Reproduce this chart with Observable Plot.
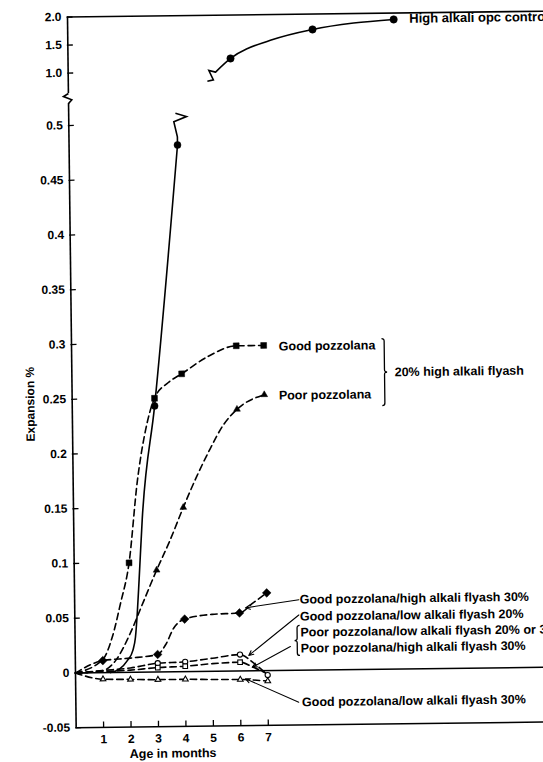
<!DOCTYPE html>
<html>
<head>
<meta charset="utf-8">
<script src="https://cdn.jsdelivr.net/npm/d3@7"></script>
<script src="https://cdn.jsdelivr.net/npm/@observablehq/plot@0.6"></script>
<style>
html,body{margin:0;padding:0;background:#fff;overflow:hidden;width:543px;height:762px;}
#wrap{position:relative;width:560px;height:762px;transform:rotate(-0.7deg);transform-origin:75px 672.5px;}
#wrap svg{position:absolute;left:0;top:0;}
</style>
</head>
<body>
<div id="wrap"></div>
<script>
// ---------- data (months, expansion %) ----------
const ctrlLow = [[1.28,0],[1.6,0.003],[1.9,0.011],[2.1,0.02],[2.2,0.032],[2.28,0.055],[2.36,0.085],[2.5,0.14],[3,0.243],[3.95,0.481]];
const ctrlLowMarks = [[3,0.243],[3.95,0.481]];
const ctrlHigh = [[5.37,0.984],[5.92,1.225],[7.38,1.54],[8.92,1.725],[10.42,1.83],[11.88,1.886]];
const ctrlHighMarks = [[5.92,1.225],[8.92,1.725],[11.88,1.886]];

const goodPozz = [[0,0],[1,0.012],[1.35,0.032],[1.67,0.063],[2,0.1],[2.34,0.175],[2.66,0.221],[3,0.25],[3.5,0.264],[4,0.272],[5,0.288],[6,0.297],[7,0.297]];
const goodPozzMarks = [[2,0.1],[3,0.25],[4,0.272],[6,0.297],[7,0.297]];

const poorPozz = [[0,0],[1,0.002],[1.5,0.012],[2,0.035],[2.5,0.064],[3,0.093],[3.5,0.12],[4,0.15],[4.5,0.178],[5,0.203],[5.5,0.225],[6,0.239],[7,0.252]];
const poorPozzMarks = [[3,0.093],[4,0.15],[6,0.239],[7,0.252]];

const goodHigh30 = [[0,0],[1,0.011],[2,0.013],[3,0.016],[3.3,0.025],[3.6,0.04],[4,0.048],[5,0.052],[6,0.053],[6.5,0.062],[7,0.071]];
const goodHigh30Marks = [[1,0.011],[3,0.016],[4,0.048],[6,0.053],[7,0.071]];

const goodLow20 = [[0,0],[1,0.002],[2,0.004],[3,0.008],[4,0.009],[5,0.012],[6,0.015],[6.5,0.007],[7,-0.004]];
const goodLow20Marks = [[3,0.008],[4,0.009],[6,0.015],[7,-0.004]];

const poorMix = [[0,0],[1,0.001],[2,0.002],[3,0.004],[4,0.005],[5,0.007],[6,0.008],[6.5,0.003],[7,-0.003]];
const poorMixMarks = [[3,0.004],[4,0.005],[6,0.008]];

const goodLow30 = [[0,0],[1,-0.006],[2,-0.0065],[3,-0.007],[4,-0.007],[5,-0.0075],[6,-0.0078],[7,-0.0095]];
const goodLow30Marks = [[1,-0.006],[2,-0.0065],[3,-0.007],[4,-0.007],[6,-0.0078],[7,-0.0095]];

// axis ticks
const xTicks = [1,2,3,4,5,6,7];
const yTicksLow = [0.5,0.45,0.4,0.35,0.3,0.25,0.2,0.15,0.1,0.05,0,-0.05];
const yTickLabelsLow = ["0.5","0.45","0.4","0.35","0.3","0.25","0.2","0.15","0.1","0.05","0","-0.05"];
const yTicksHigh = [2.0,1.5,1.0];
const yTickLabelsHigh = ["2.0","1.5","1.0"];

// annotations (data coordinates)
const labelsLow = [
  ["Good pozzolana", 7.55, 0.2959],
  ["Poor pozzolana", 7.53, 0.2511],
  ["20% high alkali flyash", 11.76, 0.2711],
  ["Good pozzolana/high alkali flyash 30%", 8.2, 0.0645],
  ["Good pozzolana/low alkali flyash 20%", 8.2, 0.049],
  ["Poor pozzolana/low alkali flyash 20% or 30%", 8.21, 0.0345],
  ["Poor pozzolana/high alkali flyash 30%", 8.21, 0.0198],
  ["Good pozzolana/low alkali flyash 30%", 8.24, -0.0292]
];
const labelsHigh = [["High alkali opc control", 12.45, 1.9]];
const arrows = [
  [8.17,0.0644,6.22,0.0576],
  [8.16,0.0505,6.32,0.0141],
  [7.84,0.0218,6.44,0.0033],
  [8.12,-0.0291,6.19,-0.0072],
  [0.45,0,0.02,0]
];

// ---------- layout ----------
const F = "Liberation Sans, Arial, Helvetica, sans-serif";
const W = 560, ML = 75, PXM = 27.45, XMAX = 17.5;
const MR = W - ML - XMAX * PXM;
const txt = {fontFamily: F, fontSize: 12.5, fontWeight: "bold", fill: "black"};
const SW = 1.6;

const tickRight = {draw(c){c.moveTo(-1,0);c.lineTo(5,0);}};
const tickUp = {draw(c){c.moveTo(0,0);c.lineTo(0,-6);}};
const axisBreak = {draw(c){c.moveTo(0,-5);c.lineTo(-5,-2);c.lineTo(3.3,1.3);c.lineTo(0,5);}};
const zigLow = {draw(c){c.moveTo(0,0);c.lineTo(0,-8.2);c.lineTo(-3.4,-23.3);c.lineTo(9.3,-28.3);c.lineTo(-1.7,-31.7);}};
const zigHigh = {draw(c){c.moveTo(0,0);c.lineTo(-6.7,-1.7);c.lineTo(-2.3,7.7);c.lineTo(-8.3,9);}};
function brace(h, dir){
  const w = 2.6 * dir, a = 2.6;
  return {draw(c){
    c.moveTo(-w,-h); c.quadraticCurveTo(0,-h,0,-h+a); c.lineTo(0,-a);
    c.quadraticCurveTo(0,0,w,0); c.quadraticCurveTo(0,0,0,a);
    c.lineTo(0,h-a); c.quadraticCurveTo(0,h,-w,h);
  }};
}
const braces = [[11.39,0.2714,brace(33.5,1)],[8.09,0.0272,brace(15,-1)]];

const X = d => d[0], Y = d => d[1];
const dashed = (data) => Plot.line(data, {x: X, y: Y, stroke: "black", strokeWidth: SW, strokeDasharray: "6.5,4", curve: "monotone-x"});
const solid = (data) => Plot.line(data, {x: X, y: Y, stroke: "black", strokeWidth: SW, curve: "monotone-x"});
const filled = (data, symbol, r) => Plot.dot(data, {x: X, y: Y, symbol, r, fill: "black", stroke: "black", strokeWidth: 0.5});
const open = (data, symbol, r) => Plot.dot(data, {x: X, y: Y, symbol, r, fill: "white", stroke: "black", strokeWidth: 1.1});
const glyph = (data, symbol, sw = SW) => Plot.dot(data, {x: X, y: Y, symbol, r: 4, fill: "none", stroke: "black", strokeWidth: sw});

const lower = Plot.plot({
  width: W, height: 762,
  marginLeft: ML, marginRight: MR, marginTop: 125, marginBottom: 34.75,
  x: {domain: [0, XMAX], axis: null},
  y: {domain: [-0.05, 0.5], axis: null},
  style: {background: "transparent", overflow: "visible"},
  marks: [
    Plot.ruleY([-0.05, 0], {stroke: "black", strokeWidth: SW}),
    Plot.ruleX([0], {y1: -0.05, y2: 0.5202, stroke: "black", strokeWidth: SW}),
    glyph([[0, 0.5247]], axisBreak),
    Plot.dot(yTicksLow, {x: 0, y: d => d, symbol: tickRight, r: 4, stroke: "black", strokeWidth: 1.3}),
    Plot.text(yTicksLow, {x: 0, y: d => d, text: (d, i) => yTickLabelsLow[i], textAnchor: "end", dx: -6, ...txt, fontSize: 12}),
    Plot.dot(xTicks, {x: d => d, y: -0.05, symbol: tickUp, r: 4, stroke: "black", strokeWidth: 1.3}),
    Plot.text(xTicks, {x: d => d, y: -0.05, text: d => String(d), dy: 12, ...txt, fontSize: 12}),
    Plot.text([["Age in months", 3.52, -0.05]], {x: d => d[1], y: d => d[2], text: d => d[0], dy: 27, ...txt, fontSize: 12.5}),
    Plot.text([["Expansion %", -1.52, 0.246]], {x: d => d[1], y: d => d[2], text: d => d[0], rotate: -90, ...txt, fontSize: 12}),
    dashed(goodPozz), dashed(poorPozz), dashed(goodHigh30), dashed(goodLow20), dashed(poorMix), dashed(goodLow30),
    solid(ctrlLow),
    glyph([ctrlLowMarks[1]], zigLow),
    filled(ctrlLowMarks, "circle", 3.5),
    filled(goodPozzMarks, "square", 3.3),
    filled(poorPozzMarks, "triangle", 2.5),
    filled(goodHigh30Marks, "diamond2", 3.9),
    open(goodLow20Marks, "circle", 2.6),
    open(poorMixMarks, "square", 2.6),
    open(goodLow30Marks, "triangle", 2.1),
    Plot.arrow(arrows, {x1: d => d[0], y1: d => d[1], x2: d => d[2], y2: d => d[3], stroke: "black", strokeWidth: 1.1, headLength: 7, headAngle: 50}),
    Plot.dot(braces, {x: d => d[0], y: d => d[1], symbol: d => d[2], r: 4, fill: "none", stroke: "black", strokeWidth: 1.3}),
    Plot.text(labelsLow, {x: d => d[1], y: d => d[2], text: d => d[0], textAnchor: "start", ...txt})
  ]
});

const upper = Plot.plot({
  width: W, height: 100,
  marginLeft: ML, marginRight: MR, marginTop: 16.5, marginBottom: 27.5,
  x: {domain: [0, XMAX], axis: null},
  y: {domain: [1, 2], axis: null},
  style: {background: "transparent", overflow: "visible"},
  marks: [
    Plot.ruleY([2.0], {stroke: "black", strokeWidth: SW}),
    Plot.ruleX([0], {y1: 0.636, y2: 2.0, stroke: "black", strokeWidth: SW}),
    Plot.dot(yTicksHigh, {x: 0, y: d => d, symbol: tickRight, r: 4, stroke: "black", strokeWidth: 1.3}),
    Plot.text(yTicksHigh, {x: 0, y: d => d, text: (d, i) => yTickLabelsHigh[i], textAnchor: "end", dx: -6, ...txt, fontSize: 12}),
    solid(ctrlHigh),
    glyph([ctrlHigh[0]], zigHigh),
    filled(ctrlHighMarks, "circle", 3.7),
    Plot.text(labelsHigh, {x: d => d[1], y: d => d[2], text: d => d[0], textAnchor: "start", ...txt, fontSize: 13})
  ]
});

const wrap = document.getElementById("wrap");
wrap.appendChild(lower);
wrap.appendChild(upper);
</script>
</body>
</html>
